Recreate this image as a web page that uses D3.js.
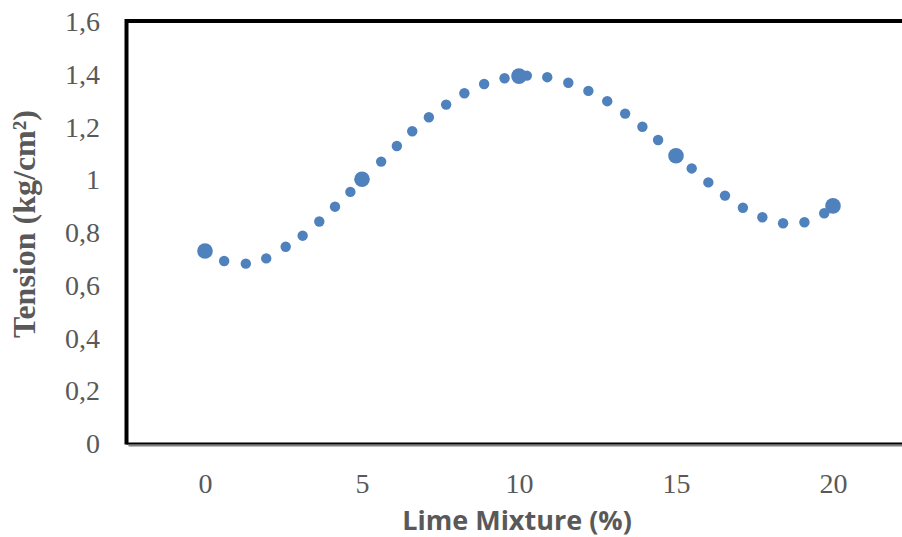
<!DOCTYPE html>
<html>
<head>
<meta charset="utf-8">
<script src="https://cdn.jsdelivr.net/npm/d3@7"></script>
<style>
  html, body { margin: 0; padding: 0; background: #fff; }
  svg { display: block; }
</style>
</head>
<body>
<svg id="chart" width="902" height="537"></svg>
<script>
// Measured points (large markers)
const mixX = [0, 5, 10, 15, 20];
const tension = [0.728, 1.0, 1.391, 1.089, 0.899];
// Smoothed-line markers (small dots)
const curveX = [0.61, 1.30, 1.95, 2.57, 3.11, 3.64, 4.14, 4.63, 5.61, 6.11, 6.60, 7.13, 7.68, 8.26, 8.89, 9.54, 10.25, 10.90, 11.57, 12.21, 12.81, 13.38, 13.93, 14.43, 15.50, 16.03, 16.56, 17.13, 17.75, 18.41, 19.09, 19.72];
const curveY = [0.690, 0.680, 0.700, 0.744, 0.786, 0.840, 0.896, 0.952, 1.067, 1.126, 1.182, 1.235, 1.283, 1.326, 1.361, 1.383, 1.393, 1.387, 1.366, 1.335, 1.296, 1.249, 1.199, 1.149, 1.041, 0.988, 0.938, 0.892, 0.856, 0.833, 0.837, 0.871];
const xTicks = [0, 5, 10, 15, 20];
const yTicks = [0, 0.2, 0.4, 0.6, 0.8, 1.0, 1.2, 1.4, 1.6];

const svg = d3.select("#chart");
const x = d3.scaleLinear().domain([0, 20]).range([205, 833]);
const y = d3.scaleLinear().domain([0, 1.6]).range([443, 21]);
const plotLeft = x(-2.5), plotRight = 910;
const color = "#4F81BD";
const grey = "#595959";

// Frame
svg.append("line").attr("x1", plotLeft).attr("x2", plotRight)
  .attr("y1", y(1.6)).attr("y2", y(1.6)).attr("stroke", "#000").attr("stroke-width", 4);
svg.append("line").attr("x1", plotLeft + 2).attr("x2", plotRight)
  .attr("y1", y(0) + 2.5).attr("y2", y(0) + 2.5).attr("stroke", "#808080").attr("stroke-width", 2);
svg.append("line").attr("x1", plotLeft).attr("x2", plotRight)
  .attr("y1", y(0) + 0.5).attr("y2", y(0) + 0.5).attr("stroke", "#000").attr("stroke-width", 2);
svg.append("line").attr("x1", plotLeft).attr("x2", plotLeft)
  .attr("y1", y(1.6) - 2).attr("y2", y(0) + 1.5).attr("stroke", "#000").attr("stroke-width", 4);

// Y axis labels
const yAxis = d3.axisLeft(y).tickValues(yTicks)
  .tickFormat(d => d3.format(".1~f")(d).replace(".", ","))
  .tickSize(0).tickPadding(0);
const gy = svg.append("g").attr("transform", "translate(100,0)").call(yAxis);
gy.select(".domain").remove();
gy.selectAll("text").attr("font-family", "Liberation Serif, Times New Roman, serif")
  .attr("font-size", 28).attr("fill", grey).attr("dy", "0.34em");

// X axis labels
const xAxis = d3.axisBottom(x).tickValues(xTicks).tickFormat(d3.format("d"))
  .tickSize(0).tickPadding(0);
const gx = svg.append("g").attr("transform", "translate(0,473)").call(xAxis);
gx.select(".domain").remove();
gx.selectAll("text").attr("font-family", "Liberation Serif, Times New Roman, serif")
  .attr("font-size", 28).attr("fill", grey).attr("dy", "0.71em");

// Titles
svg.append("text").attr("x", 517).attr("y", 530).attr("text-anchor", "middle")
  .attr("font-family", "Open Sans, Carlito, sans-serif").attr("font-weight", "bold")
  .attr("font-size", 27).attr("fill", grey).text("Lime Mixture (%)");
svg.append("text").attr("transform", "translate(35,224) rotate(-90)").attr("text-anchor", "middle")
  .attr("font-family", "Liberation Serif, Times New Roman, serif").attr("font-weight", "bold")
  .attr("font-size", 32).attr("fill", grey).text("Tension (kg/cm²)");

// Small dots
svg.append("g").selectAll("circle").data(curveX.map((d, i) => [d, curveY[i]])).join("circle")
  .attr("cx", d => x(d[0])).attr("cy", d => y(d[1])).attr("r", 5.2).attr("fill", color);
// Large dots
svg.append("g").selectAll("circle").data(mixX.map((d, i) => [d, tension[i]])).join("circle")
  .attr("cx", d => x(d[0])).attr("cy", d => y(d[1])).attr("r", 7.8).attr("fill", color);
</script>
</body>
</html>
